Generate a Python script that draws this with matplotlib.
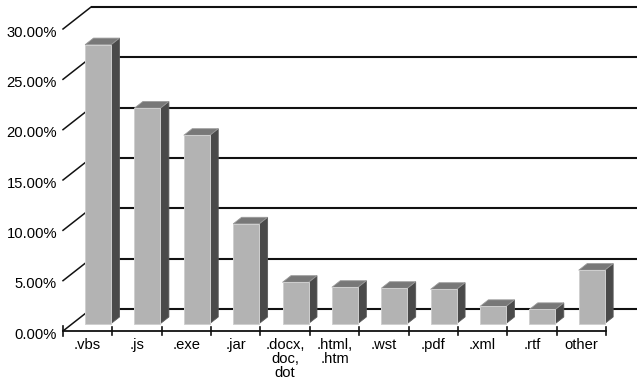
"""3D-style column chart of attachment file types (share of samples)."""

import matplotlib
matplotlib.use("Agg")
import matplotlib.pyplot as plt
from matplotlib.patches import Polygon

categories = [".vbs", ".js", ".exe", ".jar", ".docx,\ndoc,\ndot", ".html,\n.htm",
              ".wst", ".pdf", ".xml", ".rtf", "other"]
shares = [27.7, 21.4, 18.7, 9.9, 4.1, 3.6, 3.5, 3.4, 1.7, 1.4, 5.3]
y_ticks = [0, 5, 10, 15, 20, 25, 30]

# oblique projection: full depth of the plot box, in data units
DX, DY = 0.567, 2.18
BAR_LEFT, BAR_WIDTH = 0.255, 0.527
D_FRONT, D_BACK = 0.34, 0.64

FRONT = "#b3b3b3"
TOP = "#787878"
SIDE = "#4a4a4a"


def proj(x, y, d):
    return (x + d * DX, y + d * DY)


fig = plt.figure(figsize=(6.37, 3.81), dpi=100)
ax = fig.add_axes([63 / 637, 50 / 381, 543 / 637, 302 / 381])
ax.set_xlim(0, len(categories))
ax.set_ylim(0, 30)
ax.axis("off")

# back wall gridlines + diagonal tick lines
for t in y_ticks:
    x0, y0 = proj(0, t, 1)
    ax.plot([x0, 13], [y0, y0], color="#111111", lw=1.5, clip_on=False,
            solid_capstyle="butt", zorder=1)
    ax.plot([0, x0], [t, y0], color="#111111", lw=1.1, clip_on=False, zorder=1)
    ax.text(-0.12, t - 0.35, f"{t:.2f}%", ha="right", va="center",
            fontsize=10.6, family="Liberation Sans", color="black")

# front floor edge with category ticks
n = len(categories)
ax.plot([0, n], [0, 0], color="#111111", lw=1.3, clip_on=False, zorder=2)
ax.plot([0, 0], [-0.5, 0.5], color="#111111", lw=1.2, clip_on=False, zorder=2)
for i in range(1, n + 1):
    ax.plot([i, i], [-0.4, 0.4], color="#111111", lw=1.2, clip_on=False, zorder=2)

for i, (cat, v) in enumerate(zip(categories, shares)):
    x0 = i + BAR_LEFT
    x1 = x0 + BAR_WIDTH
    front = [proj(x0, 0, D_FRONT), proj(x1, 0, D_FRONT),
             proj(x1, v, D_FRONT), proj(x0, v, D_FRONT)]
    side = [proj(x1, 0, D_FRONT), proj(x1, 0, D_BACK),
            proj(x1, v, D_BACK), proj(x1, v, D_FRONT)]
    top = [proj(x0, v, D_FRONT), proj(x1, v, D_FRONT),
           proj(x1, v, D_BACK), proj(x0, v, D_BACK)]
    ax.add_patch(Polygon(side, closed=True, facecolor=SIDE, edgecolor="#5a5a5a",
                         lw=0.6, clip_on=False, zorder=3))
    ax.add_patch(Polygon(top, closed=True, facecolor=TOP, edgecolor="#9a9a9a",
                         lw=0.6, clip_on=False, zorder=3))
    ax.add_patch(Polygon(front, closed=True, facecolor=FRONT, edgecolor="#cfcfcf",
                         lw=0.7, clip_on=False, zorder=4))
    ax.text(i + 0.5, -0.65, cat, ha="center", va="top", fontsize=10.6,
            linespacing=1.0, family="Liberation Sans", color="black")

fig.savefig("out.png", dpi=100)
